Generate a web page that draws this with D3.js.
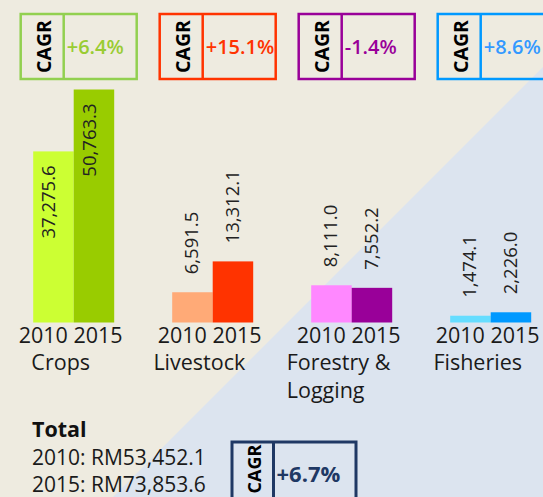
<!DOCTYPE html>
<html>
<head>
<meta charset="utf-8">
<script src="https://cdn.jsdelivr.net/npm/d3@7"></script>
<style>
  body { margin: 0; background: #EEEBE0; }
  svg { display: block; font-family: "Open Sans", sans-serif; }
</style>
</head>
<body>
<div id="chart"></div>
<script>
// data
var categories = ["Crops", "Livestock", "Forestry & Logging", "Fisheries"];
var years = ["2010", "2015"];
var values2010 = [37275.6, 6591.5, 8111.0, 1474.1];
var values2015 = [50763.3, 13312.1, 7552.2, 2226.0];
var cagr = ["+6.4%", "+15.1%", "-1.4%", "+8.6%"];
var categoryLines = [["Crops"], ["Livestock"], ["Forestry &", "Logging"], ["Fisheries"]];
var totalLines = ["2010: RM53,452.1", "2015: RM73,853.6"];
var totalCagr = "+6.7%";

var colors2010 = ["#CCFF33", "#FFAA77", "#FF88FF", "#66DDFF"];
var colors2015 = ["#99CC00", "#FF3300", "#990099", "#0099FF"];
var boxColors = ["#92D050", "#FF3300", "#990099", "#0099FF"];
var cagrText = ["#99CC33", "#FF3300", "#990099", "#3399FF"];

var width = 543, height = 497;

var svg = d3.select("#chart").append("svg")
  .attr("width", width)
  .attr("height", height);

// background, beige with a pale blue triangle
svg.append("rect").attr("width", width).attr("height", height).attr("fill", "#EEEBE0");
svg.append("path")
  .attr("d", "M543,67 L543,497 L113,497 Z")
  .attr("fill", "#DCE4EF");

var rows = categories.map(function(c, i) {
  return { cat: c, i: i, vals: [values2010[i], values2015[i]] };
});

var x0 = d3.scaleBand().domain(categories).range([4.2, 560.2]);
var x1 = d3.scaleBand().domain(years).range([-40.5, 40.5]);
var y = d3.scaleLinear()
  .domain([0, d3.max(values2015.concat(values2010))])
  .range([322.5, 89.5]);

function center(c) { return x0(c) + x0.bandwidth() / 2; }

var fmt = d3.format(",.1f");

var groups = svg.selectAll(".grp")
  .data(rows)
  .enter().append("g")
  .attr("class", "grp")
  .attr("transform", function(d) { return "translate(" + center(d.cat) + ",0)"; });

// bars
groups.selectAll("rect")
  .data(function(d) { return d.vals.map(function(v, j) { return { v: v, year: years[j], i: d.i }; }); })
  .enter().append("rect")
  .attr("x", function(d) { return x1(d.year); })
  .attr("width", x1.bandwidth())
  .attr("y", function(d) { return y(d.v); })
  .attr("height", function(d) { return y(0) - y(d.v); })
  .attr("fill", function(d) { return d.year === "2010" ? colors2010[d.i] : colors2015[d.i]; });

// rotated value labels, inside the tall bars, above the short ones
groups.selectAll(".val")
  .data(function(d) { return d.vals.map(function(v, j) { return { v: v, year: years[j] }; }); })
  .enter().append("text")
  .attr("class", "val")
  .attr("transform", function(d) {
    var inside = y(0) - y(d.v) > 100;
    var ty = inside ? y(d.v) + 14 : y(d.v) - 18;
    var tx = x1(d.year) + x1.bandwidth() / 2 + (inside ? -5 : -1);
    return "translate(" + tx + "," + ty + ") rotate(-90)";
  })
  .attr("text-anchor", function(d) { return y(0) - y(d.v) > 100 ? "end" : "start"; })
  .attr("dy", "0.36em")
  .style("font-size", "18.5px")
  .style("fill", "#222")
  .text(function(d) { return fmt(d.v); });

// year labels
groups.append("text")
  .attr("x", -3)
  .attr("y", 343)
  .attr("text-anchor", "middle")
  .style("font-size", "21.5px")
  .style("fill", "#1a1a1a")
  .text(years.join(" "));

// category labels (left aligned block, centred under the group)
groups.each(function(d) {
  var g = d3.select(this);
  var t = g.append("text")
    .style("font-size", "21.5px")
    .style("fill", "#1a1a1a");
  categoryLines[d.i].forEach(function(line, k) {
    t.append("tspan").attr("x", 0).attr("y", 370 + k * 28).text(line);
  });
  var w = t.node().getBBox().width;
  t.attr("transform", "translate(" + (-13 - w / 2) + ",0)");
});

// CAGR boxes
function cagrBox(sel, bx, by, bw, bh, cellW, stroke, sw, label, labelColor, bold, size, midY, capSize) {
  var b = sel.append("g").attr("transform", "translate(" + bx + "," + by + ")");
  b.append("rect").attr("width", bw).attr("height", bh)
    .attr("fill", "none").attr("stroke", stroke).attr("stroke-width", sw);
  b.append("line").attr("x1", cellW).attr("x2", cellW).attr("y1", 0).attr("y2", bh)
    .attr("stroke", stroke).attr("stroke-width", sw);
  b.append("text")
    .attr("transform", "translate(" + (cellW / 2 + 2) + "," + midY + ") rotate(-90)")
    .attr("text-anchor", "middle")
    .attr("dy", "0.36em")
    .style("font-size", capSize)
    .style("font-weight", "bold")
    .style("fill", "#000")
    .text("CAGR");
  b.append("text")
    .attr("x", cellW + 3)
    .attr("y", bh / 2)
    .attr("dy", "0.36em")
    .style("font-size", size)
    .style("font-weight", bold)
    .style("fill", labelColor)
    .text(label);
}

rows.forEach(function(d) {
  cagrBox(svg, center(d.cat) - 53, 14, 116, 65, 43, boxColors[d.i], 2.5,
    cagr[d.i], cagrText[d.i], 600, "20px", 32.5, "19.5px");
});

// totals
var tot = svg.append("text")
  .style("font-size", "21px")
  .style("fill", "#1a1a1a");
tot.append("tspan").attr("x", 32).attr("y", 436.5)
  .style("font-size", "21.5px")
  .style("font-weight", "bold").style("fill", "#111").text("Total");
totalLines.forEach(function(line, k) {
  tot.append("tspan").attr("x", 32).attr("y", 465 + k * 27).text(line);
});

cagrBox(svg, 232, 442, 124, 65, 41.5, "#1F3864", 3, totalCagr, "#1F3864", "bold", "22px", 27, "18px");
</script>
</body>
</html>
